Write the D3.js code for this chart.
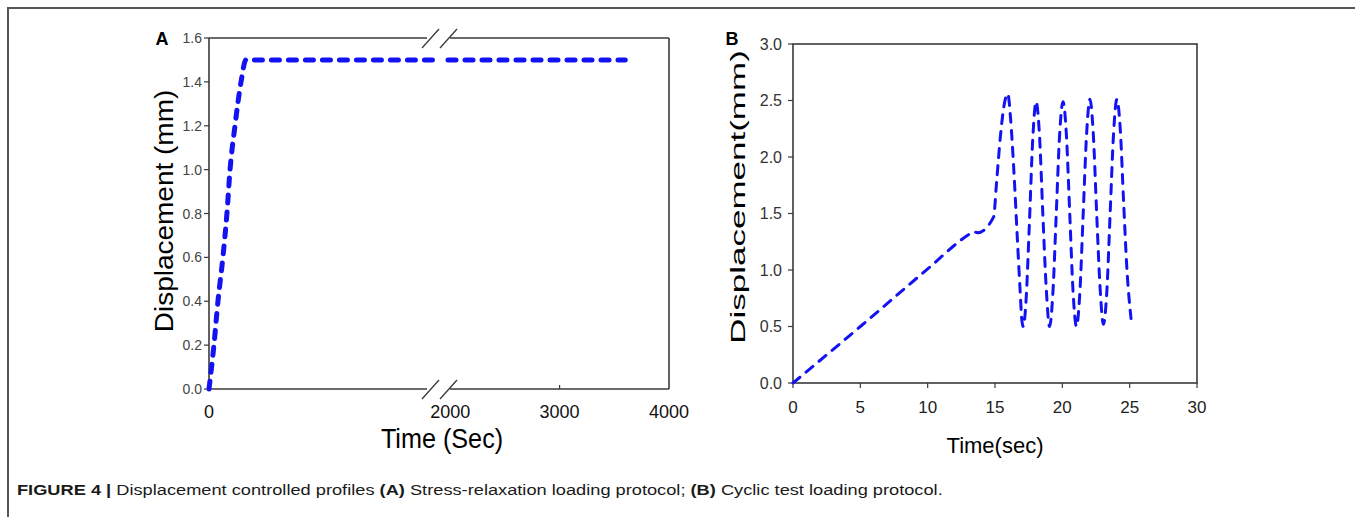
<!DOCTYPE html>
<html>
<head>
<meta charset="utf-8">
<script src="https://cdn.jsdelivr.net/npm/d3@7"></script>
<style>
  body { margin: 0; background: #fff; }
  text { font-family: Arial, "Liberation Sans", sans-serif; }
</style>
</head>
<body>
<div class="figure"></div>
<script>
// DATA -----------------------------------

// panel A: stress-relaxation ramp + hold (sec, mm)
var rampTimeA = [0, 22, 40, 62, 80, 94, 116, 143, 165, 1000];
var rampDispA = [0, 0.2, 0.4, 0.6, 0.8, 1.0, 1.2, 1.4, 1.5, 1.5];
var holdTimeA = [1980, 3600];
var holdDispA = [1.5, 1.5];
var yTicksA = [0, 0.2, 0.4, 0.6, 0.8, 1.0, 1.2, 1.4, 1.6];
var xTicksA = [0, 2000, 3000, 4000];

// panel B: cyclic loading (sec, mm)
var timeB = [0, 5, 10, 13.0, 13.4, 13.7, 14.9, 15.1, 15.4, 15.65, 15.95, 16.15, 16.4, 16.65, 16.85, 17.0, 17.1,
  17.3, 17.55, 17.8, 18.05, 18.3, 18.55, 18.8, 19.05, 19.3, 19.55, 19.8, 20.05, 20.3, 20.55, 20.8, 21.05,
  21.3, 21.55, 21.8, 22.05, 22.3, 22.55, 22.8, 23.05, 23.3, 23.55, 23.8, 24.05, 24.3, 24.55, 24.8, 25.1];
var dispB = [0, 0.5, 1.01, 1.31, 1.34, 1.33, 1.47, 1.75, 2.18, 2.44, 2.56, 2.35, 1.88, 1.3, 0.85, 0.55, 0.5,
  0.72, 1.4, 2.15, 2.49, 2.2, 1.5, 0.85, 0.5, 0.8, 1.5, 2.2, 2.49, 2.2, 1.5, 0.8, 0.5,
  0.8, 1.5, 2.2, 2.51, 2.2, 1.5, 0.85, 0.52, 0.8, 1.5, 2.2, 2.51, 2.25, 1.6, 1.0, 0.57];
var xTicksB = [0, 5, 10, 15, 20, 25, 30];
var yTicksB = [0, 0.5, 1.0, 1.5, 2.0, 2.5, 3.0];

// SET UP SVG -----------------------------------

var svgWidth = 1355;
var svgHeight = 527;
var lineBlue = "#1212f2";
var axisColor = "#3a3a3a";

var svg = d3.select(".figure")
  .append("svg")
  .attr("width", svgWidth)
  .attr("height", svgHeight);

// outer frame (top + left only)
svg.append("path")
  .attr("d", "M8,517 L8,8 L1355,8")
  .attr("fill", "none")
  .attr("stroke", "#555")
  .attr("stroke-width", 2);

// helper for stretched text
function addText(x, y, str, size, opts) {
  opts = opts || {};
  var t = svg.append("text")
    .attr("transform", `translate(${x}, ${y})` + (opts.rotate ? ` rotate(${opts.rotate})` : "") +
      ` scale(${opts.sx || 1}, ${opts.sy || 1})`)
    .attr("text-anchor", opts.anchor || "middle")
    .attr("font-size", size)
    .attr("font-weight", opts.bold ? "bold" : "normal")
    .attr("fill", opts.fill || "#000")
    .text(str);
  if (opts.dy) t.attr("dy", opts.dy);
  return t;
}

// PANEL A -----------------------------------

var plotA = { left: 209, right: 669, top: 38, bottom: 389 };

var xLeftA = d3.scaleLinear().domain([0, 1000]).range([plotA.left, 433]);
var xRightA = d3.scaleLinear().domain([1980, 4000]).range([448, plotA.right]);
var yA = d3.scaleLinear().domain([0, 1.6]).range([plotA.bottom, plotA.top]);

var gA = svg.append("g");

// axis box with broken top and bottom lines
var breakL = 427, breakR = 450;
var boxA = [
  [plotA.left, plotA.top, plotA.left, plotA.bottom],
  [plotA.right, plotA.top, plotA.right, plotA.bottom],
  [plotA.left, plotA.top, breakL, plotA.top],
  [breakR, plotA.top, plotA.right, plotA.top],
  [plotA.left, plotA.bottom, breakL, plotA.bottom],
  [breakR, plotA.bottom, plotA.right, plotA.bottom]
];
gA.selectAll(".boxA")
  .data(boxA)
  .enter()
  .append("line")
  .attr("x1", d => d[0]).attr("y1", d => d[1])
  .attr("x2", d => d[2]).attr("y2", d => d[3])
  .attr("stroke", axisColor)
  .attr("stroke-width", 1.6);

// break slashes
[plotA.top, plotA.bottom].forEach(function(yy) {
  [422, 440].forEach(function(xx) {
    gA.append("line")
      .attr("x1", xx).attr("y1", yy + 10)
      .attr("x2", xx + 17).attr("y2", yy - 9)
      .attr("stroke", axisColor)
      .attr("stroke-width", 1.3);
  });
});

// y ticks
gA.selectAll(".ytickA")
  .data(yTicksA)
  .enter()
  .append("line")
  .attr("x1", plotA.left - 5).attr("x2", plotA.left)
  .attr("y1", d => yA(d)).attr("y2", d => yA(d))
  .attr("stroke", axisColor)
  .attr("stroke-width", 1.2);

gA.selectAll(".ylabA")
  .data(yTicksA)
  .enter()
  .append("text")
  .attr("x", 202)
  .attr("y", d => yA(d))
  .attr("dy", "0.36em")
  .attr("text-anchor", "end")
  .attr("font-size", 14)
  .attr("fill", "#444")
  .text(d => d3.format(".1f")(d));

// x ticks (3000 tick points inward)
gA.append("line")
  .attr("x1", xRightA(3000)).attr("x2", xRightA(3000))
  .attr("y1", plotA.bottom - 4).attr("y2", plotA.bottom)
  .attr("stroke", axisColor)
  .attr("stroke-width", 1.2);

gA.selectAll(".xlabA")
  .data(xTicksA)
  .enter()
  .append("text")
  .attr("x", d => d < 1000 ? xLeftA(d) : xRightA(d))
  .attr("y", 418)
  .attr("text-anchor", "middle")
  .attr("font-size", 18)
  .attr("fill", "#111")
  .text(d => d);

// curve A
var lineA1 = d3.line()
  .x(d => xLeftA(d[0]))
  .y(d => yA(d[1]))
  .curve(d3.curveMonotoneX);
var lineA2 = d3.line()
  .x(d => xRightA(d[0]))
  .y(d => yA(d[1]));

gA.append("path")
  .datum(d3.zip(rampTimeA, rampDispA))
  .attr("d", lineA1)
  .attr("fill", "none")
  .attr("stroke", lineBlue)
  .attr("stroke-width", 5)
  .attr("stroke-linecap", "round")
  .attr("stroke-dasharray", "8,9");

gA.append("path")
  .datum(d3.zip(holdTimeA, holdDispA))
  .attr("d", lineA2)
  .attr("fill", "none")
  .attr("stroke", lineBlue)
  .attr("stroke-width", 5)
  .attr("stroke-linecap", "round")
  .attr("stroke-dasharray", "8,9");

addText(162, 45, "A", 18, { bold: true });
addText(173, 211, "Displacement (mm)", 28, { rotate: -90, sy: 0.9 });
addText(442, 448, "Time (Sec)", 28, { sx: 0.9 });

// PANEL B -----------------------------------

var plotB = { left: 793, right: 1197, top: 44, bottom: 383 };

var xB = d3.scaleLinear().domain([0, 30]).range([plotB.left, plotB.right]);
var yB = d3.scaleLinear().domain([0, 3]).range([plotB.bottom, plotB.top]);

var gB = svg.append("g");

gB.append("rect")
  .attr("x", plotB.left).attr("y", plotB.top)
  .attr("width", plotB.right - plotB.left)
  .attr("height", plotB.bottom - plotB.top)
  .attr("fill", "none")
  .attr("stroke", axisColor)
  .attr("stroke-width", 1.6);

gB.selectAll(".ytickB")
  .data(yTicksB)
  .enter()
  .append("line")
  .attr("x1", plotB.left - 5).attr("x2", plotB.left)
  .attr("y1", d => yB(d)).attr("y2", d => yB(d))
  .attr("stroke", axisColor)
  .attr("stroke-width", 1.2);

gB.selectAll(".ylabB")
  .data(yTicksB)
  .enter()
  .append("text")
  .attr("x", 782)
  .attr("y", d => yB(d))
  .attr("dy", "0.36em")
  .attr("text-anchor", "end")
  .attr("font-size", 16)
  .attr("fill", "#333")
  .text(d => d3.format(".1f")(d));

gB.selectAll(".xtickB")
  .data(xTicksB)
  .enter()
  .append("line")
  .attr("x1", d => xB(d)).attr("x2", d => xB(d))
  .attr("y1", plotB.bottom).attr("y2", plotB.bottom + 5)
  .attr("stroke", axisColor)
  .attr("stroke-width", 1.2);

gB.selectAll(".xlabB")
  .data(xTicksB)
  .enter()
  .append("text")
  .attr("x", d => xB(d))
  .attr("y", 413)
  .attr("text-anchor", "middle")
  .attr("font-size", 17)
  .attr("fill", "#222")
  .text(d => d);

var lineB = d3.line()
  .x(d => xB(d[0]))
  .y(d => yB(d[1]))
  .curve(d3.curveMonotoneX);

gB.append("path")
  .datum(d3.zip(timeB, dispB))
  .attr("d", lineB)
  .attr("fill", "none")
  .attr("stroke", lineBlue)
  .attr("stroke-width", 3)
  .attr("stroke-linecap", "round")
  .attr("stroke-dasharray", "9,8");

addText(732, 45, "B", 18, { bold: true });
addText(745, 197, "Displacement(mm)", 35, { rotate: -90, sy: 0.6 });
addText(995, 453, "Time(sec)", 22);

// CAPTION -----------------------------------

var caption = svg.append("text")
  .attr("x", 17)
  .attr("y", 495)
  .attr("font-size", 15)
  .attr("fill", "#1a1a1a");
caption.append("tspan").attr("font-weight", "bold").text("FIGURE 4 |");
caption.append("tspan").text(" Displacement controlled profiles ");
caption.append("tspan").attr("font-weight", "bold").text("(A)");
caption.append("tspan").text(" Stress-relaxation loading protocol; ");
caption.append("tspan").attr("font-weight", "bold").text("(B)");
caption.append("tspan").text(" Cyclic test loading protocol.");

// stretch caption to the reference width
var capW = caption.node().getComputedTextLength();
caption.attr("transform", `translate(17, 0) scale(${926 / capW}, 1) translate(-17, 0)`);
</script>
</body>
</html>
